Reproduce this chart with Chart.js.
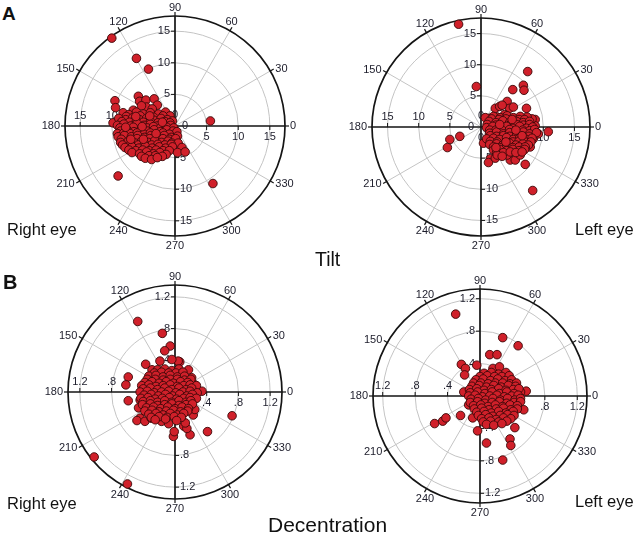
<!DOCTYPE html>
<html><head><meta charset="utf-8">
<script src="https://cdn.jsdelivr.net/npm/chart.js@4/dist/chart.umd.min.js"></script>
<style>
html,body{margin:0;padding:0;background:#fff;width:637px;height:533px;overflow:hidden;position:relative;font-family:"Liberation Sans",Arial,sans-serif;}
canvas{position:absolute;}
.t{position:absolute;white-space:nowrap;line-height:1;color:#111;}
</style></head><body>
<script>
// ---- data ----
const angleLabels = ['0','30','60','90','120','150','180','210','240','270','300','330'];
const tiltTicks = [5, 10, 15];
const tiltTickLabels = ['5', '10', '15'];
const decTicks = [0.4, 0.8, 1.2];
const decTickLabels = ['.4', '.8', '1.2'];

// [horizontal, vertical] components
const tiltRightEye = [
[-10.0,13.9],[-6.1,10.7],[-4.2,9.0],[5.6,0.8],[6.0,-9.1],[-9.0,-7.9],
[-9.5,4.0],[-9.4,2.9],[-9.8,0.5],[-5.8,4.7],[-5.6,3.9],[-4.6,4.1],[-3.3,4.3],[-2.8,3.3],[-4.5,3.0],[-5.3,3.2],[-6.6,2.5],[-3.6,2.7],
[-8.2,2.1],[-7.3,1.8],[-6.1,2.2],[-5.0,1.9],[-3.9,2.1],[-2.6,1.9],[-1.5,2.2],[-0.8,1.6],
[-7.7,1.5],[-5.5,1.6],[-3.4,1.4],[-1.9,1.6],
[-8.9,1.2],[-7.8,1.0],[-6.7,1.3],[-5.6,1.0],[-4.5,1.2],[-3.3,0.9],[-2.2,1.2],[-1.2,1.0],[-0.4,0.8],
[-8.4,0.7],[-7.2,0.6],[-6.1,0.8],[-5.0,0.6],[-3.9,0.7],[-2.7,0.5],[-1.6,0.7],[-0.8,0.5],
[-9.1,0.1],[-8.1,0.3],[-7.0,0.0],[-6.0,0.4],[-4.9,0.1],[-3.9,0.3],[-2.8,0.0],[-1.8,0.3],[-0.7,0.1],
[-8.7,-0.3],[-6.6,-0.2],[-4.4,-0.3],[-3.4,-0.1],[-2.3,-0.3],[-1.3,-0.2],[-0.2,-0.3],
[-8.6,-0.8],[-7.6,-0.6],[-6.5,-0.9],[-5.4,-0.6],[-4.4,-0.8],[-3.3,-0.6],[-2.3,-0.9],[-1.3,-0.6],[-0.3,-0.8],[0.3,-0.9],
[-9.1,-1.2],[-8.1,-1.1],[-7.1,-1.2],[-6.0,-1.1],[-4.9,-1.3],[-3.9,-1.1],[-1.9,-1.1],[-0.9,-1.3],
[-9.0,-1.7],[-8.0,-1.5],[-6.9,-1.7],[-5.9,-1.5],[-4.8,-1.8],[-3.8,-1.5],[-2.7,-1.7],[-1.7,-1.5],[-0.6,-1.8],[0.4,-1.6],
[-8.5,-2.1],[-6.0,-2.0],[-4.0,-2.0],[-2.9,-2.1],[-1.9,-2.0],[-0.9,-2.1],[0.1,-2.0],
[-8.6,-2.6],[-7.4,-2.4],[-6.3,-2.7],[-5.3,-2.4],[-4.2,-2.6],[-3.2,-2.3],[-2.1,-2.6],[-1.1,-2.4],[-0.5,-2.7],[0.5,-2.7],
[-8.3,-3.0],[-7.0,-2.9],[-5.8,-3.0],[-4.8,-2.8],[-3.7,-3.0],[-2.7,-2.9],[-1.6,-3.0],[-0.6,-2.9],
[-7.9,-3.4],[-6.8,-3.3],[-5.7,-3.5],[-4.7,-3.2],[-3.6,-3.5],[-2.5,-3.3],[-1.5,-3.5],[-0.4,-3.3],[1.1,-3.4],
[-7.3,-3.8],[-6.2,-3.9],[-5.1,-3.8],[-4.1,-3.9],[-3.0,-3.8],[-1.9,-3.9],[-0.9,-3.9],
[0.4,-4.2],[1.6,-4.1],
[-6.8,-4.2],[-5.6,-4.4],[-4.5,-4.1],[-3.4,-4.4],[-2.4,-4.2],[-1.4,-4.5],
[-5.3,-4.8],[-4.1,-4.7],[-3.1,-4.7],[-2.0,-4.8],
[-4.7,-5.1],[-3.7,-5.3],[-2.8,-5.0],
[-7.8,-0.2],[-5.2,-0.1],[-3.0,-1.2],[-5.0,-2.1],[-7.0,-2.1],[-2.0,0.6],[-4.0,1.6],[-6.2,1.5]
];
const tiltLeftEye = [
[-3.6,16.5],[7.5,8.9],[6.8,6.7],[6.9,5.9],[5.1,6.0],[-0.75,6.5],[-5.0,-2.0],[-3.4,-1.5],[-5.4,-3.3],[8.3,-10.2],[10.8,-0.75],[7.1,-6.0],
[4.2,4.1],[2.3,3.0],[3.0,3.3],[4.6,3.0],[7.3,3.0],[8.7,1.2],[8.7,0.2],[1.4,1.4],[0.7,1.5],[0.4,-2.6],
[1.5,-5.1],[1.2,-5.7],[2.3,-5.0],[4.7,-5.3],[5.5,-5.3],[4.2,-4.5],[6.3,-4.5],[7.9,-3.2],[8.4,-1.9],[9.2,-1.1],[8.2,1.3],[7.4,1.6],
[3.4,3.5],[5.2,3.2],[2.6,1.6],[3.8,2.0],
[2.0,1.7],[3.1,1.5],[4.2,1.8],[5.2,1.5],[6.3,1.7],
[1.7,1.3],[2.9,1.2],[4.0,1.3],[6.1,1.2],[7.0,1.2],
[1.3,0.9],[2.4,0.7],[3.5,1.0],[4.6,0.7],[5.7,0.9],[6.8,0.7],[7.8,0.9],
[1.0,0.4],[2.4,0.3],[4.6,0.3],[5.7,0.4],[6.8,0.3],[7.8,0.4],
[0.9,-0.1],[1.9,0.1],[3.0,-0.2],[4.1,0.1],[5.1,-0.2],[6.2,0.1],[7.3,-0.2],[8.3,0.0],
[1.4,-0.5],[2.4,-0.5],[3.5,-0.6],[4.6,-0.4],[6.7,-0.5],[7.8,-0.6],[8.6,-0.4],
[1.4,-1.0],[2.5,-0.8],[3.6,-1.1],[4.6,-0.9],[5.7,-1.1],[6.8,-0.8],[7.8,-1.1],[8.9,-0.9],
[1.5,-1.4],[2.5,-1.5],[3.6,-1.4],[4.6,-1.5],[5.7,-1.4],[7.7,-1.5],
[0.9,-1.9],[2.0,-1.8],[3.0,-2.0],[4.1,-1.7],[5.2,-2.0],[6.2,-1.8],[7.3,-2.0],[8.2,-1.8],
[1.5,-2.3],[2.6,-2.4],[5.1,-2.4],[6.1,-2.3],[7.1,-2.4],[8.0,-2.4],
[1.4,-2.8],[2.5,-2.7],[3.5,-2.9],[4.6,-2.6],[5.6,-2.9],[6.7,-2.7],[7.6,-2.9],
[2.0,-3.2],[3.0,-3.3],[4.1,-3.2],[5.1,-3.3],[6.1,-3.2],[7.1,-3.2],
[2.0,-3.7],[3.0,-3.6],[4.1,-3.8],[5.1,-3.6],[6.1,-3.8],[7.0,-3.6],
[2.5,-4.1],[3.6,-4.1],[4.7,-4.0],[5.6,-4.1],[6.6,-4.0],
[2.6,-4.5],[3.4,-4.7],
[3.0,0.4],[5.6,-0.5],[4.0,-2.4],[6.6,-1.4],[2.4,-3.3],[5.0,1.2]
];
const decRightEye = [
[-0.47,0.89],[-0.16,0.74],[-0.06,0.58],[-0.13,0.52],[-0.59,0.19],[-0.62,0.09],[-0.59,-0.11],[-1.02,-0.82],[-0.60,-1.16],[0.72,-0.30],[0.41,-0.50],[0.19,-0.54],[-0.02,-0.56],[-0.01,-0.50],[0.34,0.01],[0.25,0.09],[-0.37,0.35],[0.06,0.38],
[-0.44,-0.10],[-0.46,-0.20],[-0.44,-0.33],[-0.48,-0.36],[-0.38,-0.37],[-0.30,-0.33],[-0.17,-0.37],[-0.08,-0.40],[0.11,-0.43],[0.15,-0.46],[0.13,-0.39],[0.23,-0.29],[0.25,-0.22],
[0.21,0.18],[0.17,0.28],[0.04,0.39],[-0.04,0.41],[-0.19,0.39],[-0.29,0.28],
[-0.22,0.28],[-0.13,0.29],[-0.04,0.27],[0.05,0.29],
[-0.26,0.24],[-0.17,0.25],[-0.08,0.24],[0.01,0.24],[0.10,0.25],
[-0.33,0.20],[-0.24,0.21],[-0.15,0.19],[-0.06,0.21],[0.03,0.19],[0.12,0.20],
[-0.35,0.16],[-0.25,0.16],[-0.15,0.15],[-0.06,0.16],[0.03,0.16],[0.12,0.15],[0.20,0.16],
[-0.38,0.12],[-0.29,0.13],[-0.20,0.11],[-0.11,0.13],[-0.02,0.11],[0.07,0.13],[0.16,0.12],
[-0.42,0.08],[-0.33,0.09],[-0.24,0.07],[-0.15,0.08],[-0.06,0.09],[0.03,0.07],[0.11,0.08],[0.19,0.09],[0.27,0.08],
[-0.40,0.04],[-0.31,0.05],[-0.22,0.03],[-0.13,0.05],[-0.04,0.03],[0.05,0.05],[0.14,0.03],[0.21,0.05],
[-0.44,0.00],[-0.35,0.01],[-0.26,-0.01],[-0.17,0.00],[-0.08,0.01],[0.01,-0.01],[0.10,0.00],[0.19,0.01],[0.28,-0.01],
[-0.39,-0.04],[-0.30,-0.03],[-0.21,-0.05],[-0.12,-0.03],[-0.03,-0.05],[0.06,-0.03],[0.15,-0.05],[0.22,-0.03],
[-0.43,-0.08],[-0.34,-0.07],[-0.25,-0.09],[-0.16,-0.08],[-0.07,-0.07],[0.02,-0.09],[0.11,-0.08],[0.19,-0.07],[0.27,-0.08],
[-0.40,-0.12],[-0.31,-0.11],[-0.22,-0.13],[-0.13,-0.11],[-0.04,-0.13],[0.05,-0.11],[0.14,-0.13],[0.20,-0.11],
[-0.41,-0.16],[-0.31,-0.15],[-0.22,-0.17],[-0.13,-0.16],[-0.04,-0.15],[0.05,-0.17],[0.14,-0.16],[0.22,-0.15],
[-0.36,-0.20],[-0.27,-0.19],[-0.18,-0.21],[-0.09,-0.19],[0.00,-0.21],[0.09,-0.19],[0.17,-0.21],
[-0.38,-0.24],[-0.29,-0.23],[-0.20,-0.25],[-0.11,-0.24],[-0.02,-0.23],[0.07,-0.25],[0.16,-0.24],
[-0.33,-0.28],[-0.24,-0.27],[-0.15,-0.29],[-0.06,-0.27],[0.03,-0.29],[0.11,-0.27],
[-0.30,-0.32],[-0.20,-0.31],[-0.10,-0.32],[-0.01,-0.31],[0.08,-0.32],
[-0.25,-0.35],[-0.12,-0.34],[0.02,-0.36]
];
const decLeftEye = [
[-0.30,1.01],[0.28,0.72],[0.47,0.62],[0.12,0.51],[0.21,0.51],[-0.23,0.39],[-0.18,0.34],[-0.04,0.38],[-0.19,0.26],[-0.56,-0.34],[-0.46,-0.31],[-0.42,-0.27],[-0.24,-0.24],[-0.09,-0.27],[-0.03,-0.43],[0.08,-0.58],[0.37,-0.53],[0.38,-0.61],[0.28,-0.79],[0.57,0.06],[0.50,0.05],[0.54,-0.17],[0.43,-0.39],
[-0.20,0.05],[-0.14,-0.11],[0.16,0.34],[0.24,0.36],
[0.05,0.28],[0.14,0.29],[0.23,0.27],[0.32,0.29],
[0.00,0.24],[0.09,0.25],[0.18,0.24],[0.27,0.24],[0.36,0.25],
[-0.05,0.20],[0.04,0.21],[0.13,0.19],[0.22,0.21],[0.31,0.19],[0.39,0.20],
[-0.08,0.16],[0.01,0.16],[0.10,0.15],[0.19,0.16],[0.28,0.16],[0.37,0.15],[0.45,0.16],
[-0.10,0.12],[-0.01,0.13],[0.08,0.11],[0.17,0.13],[0.26,0.11],[0.35,0.13],[0.44,0.12],
[-0.13,0.08],[-0.04,0.09],[0.05,0.07],[0.14,0.08],[0.23,0.09],[0.32,0.07],[0.41,0.08],[0.48,0.09],
[-0.12,0.04],[-0.03,0.05],[0.06,0.03],[0.15,0.05],[0.24,0.03],[0.33,0.05],[0.42,0.03],
[-0.14,0.00],[-0.06,0.01],[0.03,-0.01],[0.12,0.00],[0.21,0.01],[0.30,-0.01],[0.39,0.00],[0.47,0.01],
[-0.11,-0.04],[-0.02,-0.03],[0.07,-0.05],[0.16,-0.03],[0.25,-0.05],[0.34,-0.03],[0.43,-0.05],[0.50,-0.03],
[-0.12,-0.08],[-0.03,-0.07],[0.06,-0.09],[0.15,-0.08],[0.24,-0.07],[0.33,-0.09],[0.42,-0.08],[0.50,-0.07],
[-0.08,-0.12],[0.01,-0.11],[0.10,-0.13],[0.19,-0.11],[0.28,-0.13],[0.37,-0.11],[0.46,-0.12],
[-0.07,-0.16],[0.02,-0.15],[0.11,-0.17],[0.20,-0.16],[0.29,-0.15],[0.38,-0.17],[0.46,-0.16],
[-0.04,-0.20],[0.05,-0.19],[0.14,-0.21],[0.23,-0.19],[0.32,-0.21],[0.41,-0.19],
[-0.02,-0.24],[0.07,-0.23],[0.16,-0.25],[0.25,-0.24],[0.34,-0.23],[0.42,-0.24],
[0.02,-0.28],[0.11,-0.27],[0.20,-0.29],[0.29,-0.27],[0.38,-0.28],
[0.04,-0.32],[0.13,-0.31],[0.23,-0.32],[0.33,-0.31],
[0.08,-0.35],[0.17,-0.36],[0.27,-0.34]
];

// ---- polar grid plugin (uses chart scales) ----
const FONT = '11px "Liberation Sans", Arial, sans-serif';
const polarGrid = {
  id: 'polarGrid',
  beforeDatasetsDraw(chart, args, o) {
    const ctx = chart.ctx, xs = chart.scales.x, ys = chart.scales.y;
    const cx = xs.getPixelForValue(0), cy = ys.getPixelForValue(0);
    const R = xs.getPixelForValue(o.max) - cx;
    const rp = v => xs.getPixelForValue(v) - cx;
    ctx.save();
    ctx.strokeStyle = '#c4c4c4'; ctx.lineWidth = 1;
    o.ticks.forEach(v => { ctx.beginPath(); ctx.arc(cx, cy, rp(v), 0, Math.PI * 2); ctx.stroke(); });
    angleLabels.forEach(l => {
      const a = +l; if (a % 90 === 0) return;
      const t = a * Math.PI / 180;
      ctx.beginPath(); ctx.moveTo(cx, cy); ctx.lineTo(cx + R * Math.cos(t), cy - R * Math.sin(t)); ctx.stroke();
    });
    ctx.strokeStyle = '#151515'; ctx.lineWidth = 1.7;
    ctx.beginPath(); ctx.arc(cx, cy, R, 0, Math.PI * 2); ctx.stroke();
    ctx.beginPath(); ctx.moveTo(cx - R, cy); ctx.lineTo(cx + R, cy); ctx.moveTo(cx, cy - R); ctx.lineTo(cx, cy + R); ctx.stroke();
    ctx.lineWidth = 1.2;
    angleLabels.forEach(l => {
      const t = +l * Math.PI / 180, c = Math.cos(t), s = Math.sin(t);
      ctx.beginPath(); ctx.moveTo(cx + R * c, cy - R * s); ctx.lineTo(cx + (R + 4) * c, cy - (R + 4) * s); ctx.stroke();
    });
    ctx.lineWidth = 1;
    o.ticks.forEach(v => {
      const r = rp(v);
      ctx.beginPath();
      ctx.moveTo(cx + r, cy); ctx.lineTo(cx + r, cy + 4);
      ctx.moveTo(cx - r, cy); ctx.lineTo(cx - r, cy - 4);
      ctx.moveTo(cx, cy - r); ctx.lineTo(cx - 4, cy - r);
      ctx.moveTo(cx, cy + r); ctx.lineTo(cx + 4, cy + r);
      ctx.stroke();
    });
    ctx.fillStyle = '#1c1c2a'; ctx.font = FONT; ctx.textBaseline = 'middle';
    angleLabels.forEach(l => {
      const t = +l * Math.PI / 180, c = Math.cos(t), s = Math.sin(t);
      const ox = cx + R * c, oy = cy - R * s;
      if (Math.abs(c) > 0.8) {
        ctx.textAlign = c > 0 ? 'left' : 'right';
        ctx.fillText(l, ox + (c > 0 ? 5 : -5), oy - s * 5);
      } else {
        ctx.textAlign = 'center';
        ctx.fillText(l, ox + c * 3, s > 0 ? oy - 8.5 : oy + 10);
      }
    });
    o.ticks.forEach((v, i) => {
      const r = rp(v), s = o.labels[i];
      ctx.textAlign = 'center';
      ctx.fillText(s, cx + r, cy + 10.5);
      ctx.fillText(s, cx - r, cy - 10);
      ctx.textAlign = 'right'; ctx.fillText(s, cx - 5, cy - r);
      ctx.textAlign = 'left'; ctx.fillText(s, cx + 5, cy + r);
    });
    if (o.zero) {
      ctx.textAlign = 'center';
      ctx.fillText('0', cx, cy - 11); ctx.fillText('0', cx + 10, cy);
      ctx.fillText('0', cx - 10, cy); ctx.fillText('0', cx, cy + 11);
    }
    ctx.restore();
  }
};

function makePolar(pts, cx, cy, R, max, ticks, labels, zero) {
  const W = 300, H = 260;
  const cv = document.createElement('canvas');
  cv.width = W; cv.height = H;
  cv.style.left = (cx - W / 2) + 'px'; cv.style.top = (cy - H / 2) + 'px';
  cv.style.width = W + 'px'; cv.style.height = H + 'px';
  document.body.appendChild(cv);
  new Chart(cv, {
    type: 'scatter',
    data: { datasets: [{
      data: pts.map(p => ({ x: p[0], y: p[1] })),
      pointRadius: 4.3, pointHoverRadius: 4.3,
      backgroundColor: '#d0202a', borderColor: '#3a0808', borderWidth: 0.9,
      clip: false
    }] },
    options: {
      responsive: false, animation: false, devicePixelRatio: 1, events: [],
      layout: { padding: { left: W / 2 - R, right: W / 2 - R, top: H / 2 - R, bottom: H / 2 - R } },
      scales: {
        x: { type: 'linear', min: -max, max: max, display: false },
        y: { type: 'linear', min: -max, max: max, display: false }
      },
      plugins: { legend: { display: false }, tooltip: { enabled: false },
        polarGrid: { max: max, ticks: ticks, labels: labels, zero: zero } }
    },
    plugins: [polarGrid]
  });
}

makePolar(tiltRightEye, 175, 126, 110, 17.4, tiltTicks, tiltTickLabels, true);
makePolar(tiltLeftEye, 481, 127, 109, 17.5, tiltTicks, tiltTickLabels, true);
makePolar(decRightEye, 175, 392, 107, 1.35, decTicks, decTickLabels, false);
makePolar(decLeftEye, 480, 396, 107, 1.32, decTicks, decTickLabels, false);

function txt(s, left, baseline, size, bold) {
  const d = document.createElement('div');
  d.className = 't'; d.textContent = s;
  d.style.left = left + 'px';
  d.style.top = (baseline - 0.8465 * size) + 'px';
  d.style.fontSize = size + 'px';
  if (bold) d.style.fontWeight = 'bold';
  document.body.appendChild(d);
}
txt('A', 2, 20.5, 19, true);
txt('B', 3, 289, 20, true);
txt('Right eye', 7, 235, 16.5);
txt('Left eye', 575, 235, 16.5);
txt('Tilt', 315, 266.5, 19.5);
txt('Right eye', 7, 508.5, 16.5);
txt('Left eye', 575, 507, 16.5);
txt('Decentration', 268, 531.5, 21);
</script>
</body></html>
